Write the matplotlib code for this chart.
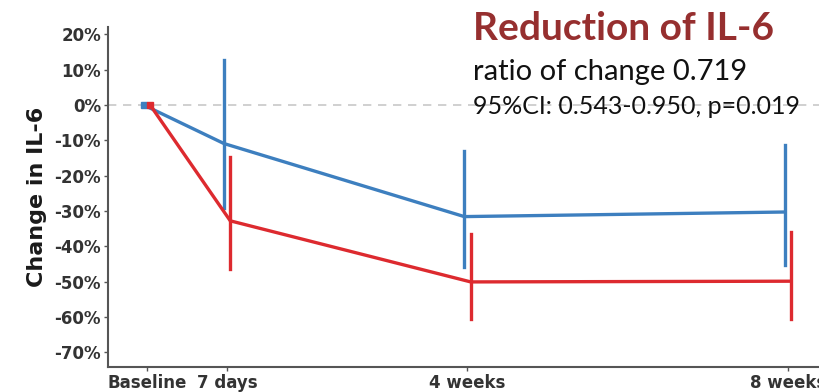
import matplotlib
matplotlib.use("Agg")
import matplotlib.pyplot as plt
import numpy as np

# 时间点（天）与刻度标签
days = [0, 7, 28, 56]
tick_labels = ["Baseline", "7 days", "4 weeks", "8 weeks"]

# 蓝色组：均值与置信区间（%）
blue_mean = [0, -10.9, -31.6, -30.3]
blue_low = [0, -29.2, -46.0, -45.3]
blue_high = [0, 12.7, -13.0, -11.3]

# 红色组
red_mean = [0, -32.8, -50.1, -49.9]
red_low = [0, -46.5, -60.6, -60.6]
red_high = [0, -14.6, -36.6, -36.0]

yticks = [20, 10, 0, -10, -20, -30, -40, -50, -60, -70]

BLUE = "#3d7fbf"
RED = "#dd2a2f"
dodge = 0.28

fig = plt.figure(figsize=(8.19, 3.92), dpi=100)
ax = fig.add_axes([108 / 819, 25 / 392, 727 / 819, 340 / 392])

def draw_group(x, mean, low, high, color):
    x = np.array(x, dtype=float)
    mean = np.array(mean)
    ax.plot(x, mean, color=color, lw=2.4, zorder=3)
    ax.plot(x[:1], mean[:1], "s", color=color, ms=4, zorder=4)
    for xi, lo, hi in zip(x[1:], low[1:], high[1:]):
        ax.plot([xi, xi], [lo, hi], color=color, lw=2.4, zorder=3)

ax.axhline(0, color="#c8c8c8", lw=1.2, ls=(0, (5, 4)), zorder=1)
draw_group(np.array(days) - dodge, blue_mean, blue_low, blue_high, BLUE)
draw_group(np.array(days) + dodge, red_mean, red_low, red_high, RED)

ax.set_xlim(-3.4, 60.1)
ax.set_ylim(-74.2, 22.1)
ax.set_yticks(yticks)
ax.set_yticklabels([f"{v}%" for v in yticks])
ax.set_xticks(days)
ax.set_xticklabels(tick_labels)
for lab in ax.get_xticklabels() + ax.get_yticklabels():
    lab.set_fontweight("bold")
    lab.set_fontsize(12)
    lab.set_color("#333333")
ax.tick_params(axis="both", length=3, width=1, color="#555555", pad=2)
ax.set_ylabel("Change in IL-6", fontsize=16, fontweight="bold", color="#1a1a1a", labelpad=5)

for s in ["top", "right"]:
    ax.spines[s].set_visible(False)
for s in ["left", "bottom"]:
    ax.spines[s].set_color("#555555")
    ax.spines[s].set_linewidth(1.5)

# 右上角注释
fig.text(473 / 819, 1 - 29 / 392, "Reduction of IL-6", family="Lato", fontweight="bold",
         fontsize=28, color="#962f2f", va="center", ha="left")
fig.text(473 / 819, 1 - 72 / 392, "ratio of change 0.719", family="Lato",
         fontsize=21, color="#111111", va="center", ha="left")
fig.text(473 / 819, 1 - 106 / 392, "95%CI: 0.543-0.950, p=0.019", family="Lato",
         fontsize=18, color="#111111", va="center", ha="left")

fig.savefig("out.png", dpi=100)
